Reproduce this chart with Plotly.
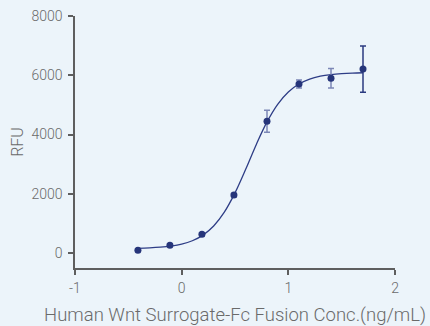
import plotly.graph_objects as go

# measured points (log10 concentration, RFU, error)
log_conc = [-0.41, -0.11, 0.19, 0.49, 0.80, 1.10, 1.40, 1.70]
rfu = [100, 270, 640, 1960, 4450, 5710, 5900, 6210]
err = [20, 40, 50, 60, 370, 135, 330, 780]

# fitted curve
curve_x = [-0.42, -0.3, -0.2, -0.1, 0.0, 0.1, 0.2, 0.3, 0.4, 0.5, 0.6, 0.7,
           0.8, 0.9, 1.0, 1.1, 1.2, 1.3, 1.4, 1.5, 1.6, 1.7]
curve_y = [165, 179, 201, 239, 305, 419, 610, 918, 1385, 2033, 2828, 3669,
           4428, 5023, 5440, 5707, 5872, 5969, 6025, 6057, 6076, 6086]

x_ticks = [-1, 0, 1, 2]
x_tick_labels = ["-1", "0", "1", "2"]
y_ticks = [0, 2000, 4000, 6000, 8000]
y_tick_labels = ["0", "2000", "4000", "6000", "8000"]

navy = "#26357A"
light_err = "#7C87B6"
text_col = "#6A6A6A"

fig = go.Figure()
fig.add_trace(go.Scatter(x=curve_x, y=curve_y, mode="lines",
                         line=dict(color="#2E3D86", width=1.3, shape="spline"),
                         hoverinfo="skip"))
fig.add_trace(go.Scatter(x=log_conc[:-1], y=rfu[:-1], mode="markers",
                         marker=dict(color=navy, size=7),
                         error_y=dict(type="data", array=err[:-1], color=light_err,
                                      thickness=1.5, width=3)))
fig.add_trace(go.Scatter(x=log_conc[-1:], y=rfu[-1:], mode="markers",
                         marker=dict(color=navy, size=7),
                         error_y=dict(type="data", array=err[-1:], color="#2B3A80",
                                      thickness=1.5, width=3)))

axis_common = dict(showgrid=False, zeroline=False, showline=True, automargin=False,
                   linecolor="#5E5E5E", linewidth=1.5, ticks="outside",
                   ticklen=5, tickwidth=1.5, tickcolor="#5E5E5E",
                   tickfont=dict(family="Roboto", size=14, color=text_col, weight=300))

fig.update_layout(
    width=430, height=326,
    margin=dict(l=75, r=35, t=16, b=58),
    paper_bgcolor="#ECF4FA", plot_bgcolor="#ECF4FA",
    showlegend=False,
    font=dict(family="Roboto", color=text_col),
    xaxis=dict(range=[-1, 2], tickvals=x_ticks, ticktext=x_tick_labels,
               ticklabelstandoff=1,
               title=dict(text="Human Wnt Surrogate-Fc Fusion Conc.(ng/mL)",
                          font=dict(size=18.5, color=text_col, weight=300), standoff=14),
               **axis_common),
    yaxis=dict(range=[-500, 8000], tickvals=y_ticks, ticktext=y_tick_labels,
               ticklabelstandoff=3,
               title=dict(text="RFU", font=dict(size=16, color=text_col, weight=300), standoff=4),
               **axis_common),
)

fig.write_html("out.html")
